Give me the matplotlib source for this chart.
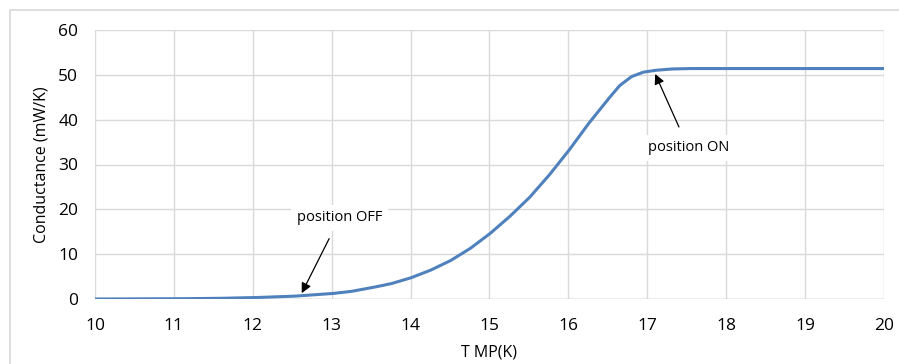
import numpy as np
import matplotlib.pyplot as plt
from matplotlib.patches import Rectangle

# conductance vs temperature
temp = [10, 10.5, 11, 11.5, 12, 12.5, 13, 13.25, 13.5, 13.75, 14, 14.25, 14.5, 14.75, 15,
        15.25, 15.5, 15.75, 16, 16.25, 16.5, 16.65, 16.8, 16.95, 17.1, 17.3, 17.5, 18, 19, 20]
cond = [0.0, 0.02, 0.05, 0.12, 0.3, 0.6, 1.2, 1.7, 2.5, 3.4, 4.7, 6.4, 8.5, 11.2, 14.5,
        18.3, 22.5, 27.5, 33.0, 39.0, 44.5, 47.6, 49.6, 50.6, 51.0, 51.3, 51.4, 51.4, 51.4, 51.4]

xticks = list(range(10, 21))
yticks = list(range(0, 61, 10))

plt.rcParams['font.family'] = ['Open Sans', 'DejaVu Sans']

fig = plt.figure(figsize=(8.99, 3.64), dpi=100)
fig.patches.append(Rectangle((10/899, -0.1), 1.0, 1 - 10/364 + 0.1, transform=fig.transFigure,
                             fill=False, edgecolor='#d9d9d9', linewidth=1.2))
ax = fig.add_axes([95/899, 65/364, 789/899, 269/364])

# smooth the curve a little like Excel's smoothed line
t_fine = np.linspace(10, 20, 600)
ax.plot(t_fine, np.interp(t_fine, temp, cond), color='#4f81bd', linewidth=2.2, zorder=3,
        solid_joinstyle='round')

ax.set_xlim(10, 20)
ax.set_ylim(0, 60)
ax.set_xticks(xticks)
ax.set_yticks(yticks)
ax.grid(True, color='#d9d9d9', linewidth=1)
ax.set_axisbelow(True)
for s in ax.spines.values():
    s.set_visible(False)
ax.axhline(0, color='#bfbfbf', linewidth=1, zorder=2)
ax.tick_params(length=0, labelsize=12.5, colors='black')
ax.tick_params(axis='x', pad=14)
ax.tick_params(axis='y', pad=12)

ax.set_xlabel('T MP(K)', fontsize=11.5, labelpad=7)
ax.set_ylabel('Conductance (mW/K)', fontsize=11.5, labelpad=6)

ax.annotate('position OFF', xy=(12.62, 1.3), xytext=(13.1, 18.1), fontsize=10.5,
            ha='center', va='center',
            bbox=dict(boxstyle='square,pad=0.4', fc='white', ec='none'),
            arrowprops=dict(arrowstyle='-|>', color='black', lw=0.9, shrinkA=6, shrinkB=0,
                            mutation_scale=15))
ax.annotate('position ON', xy=(17.1, 50.2), xytext=(17.52, 33.7), fontsize=10.5,
            ha='center', va='center',
            bbox=dict(boxstyle='square,pad=0.4', fc='white', ec='none'),
            arrowprops=dict(arrowstyle='-|>', color='black', lw=0.9, shrinkA=6, shrinkB=0,
                            mutation_scale=15))

fig.savefig('out.png', dpi=100)
